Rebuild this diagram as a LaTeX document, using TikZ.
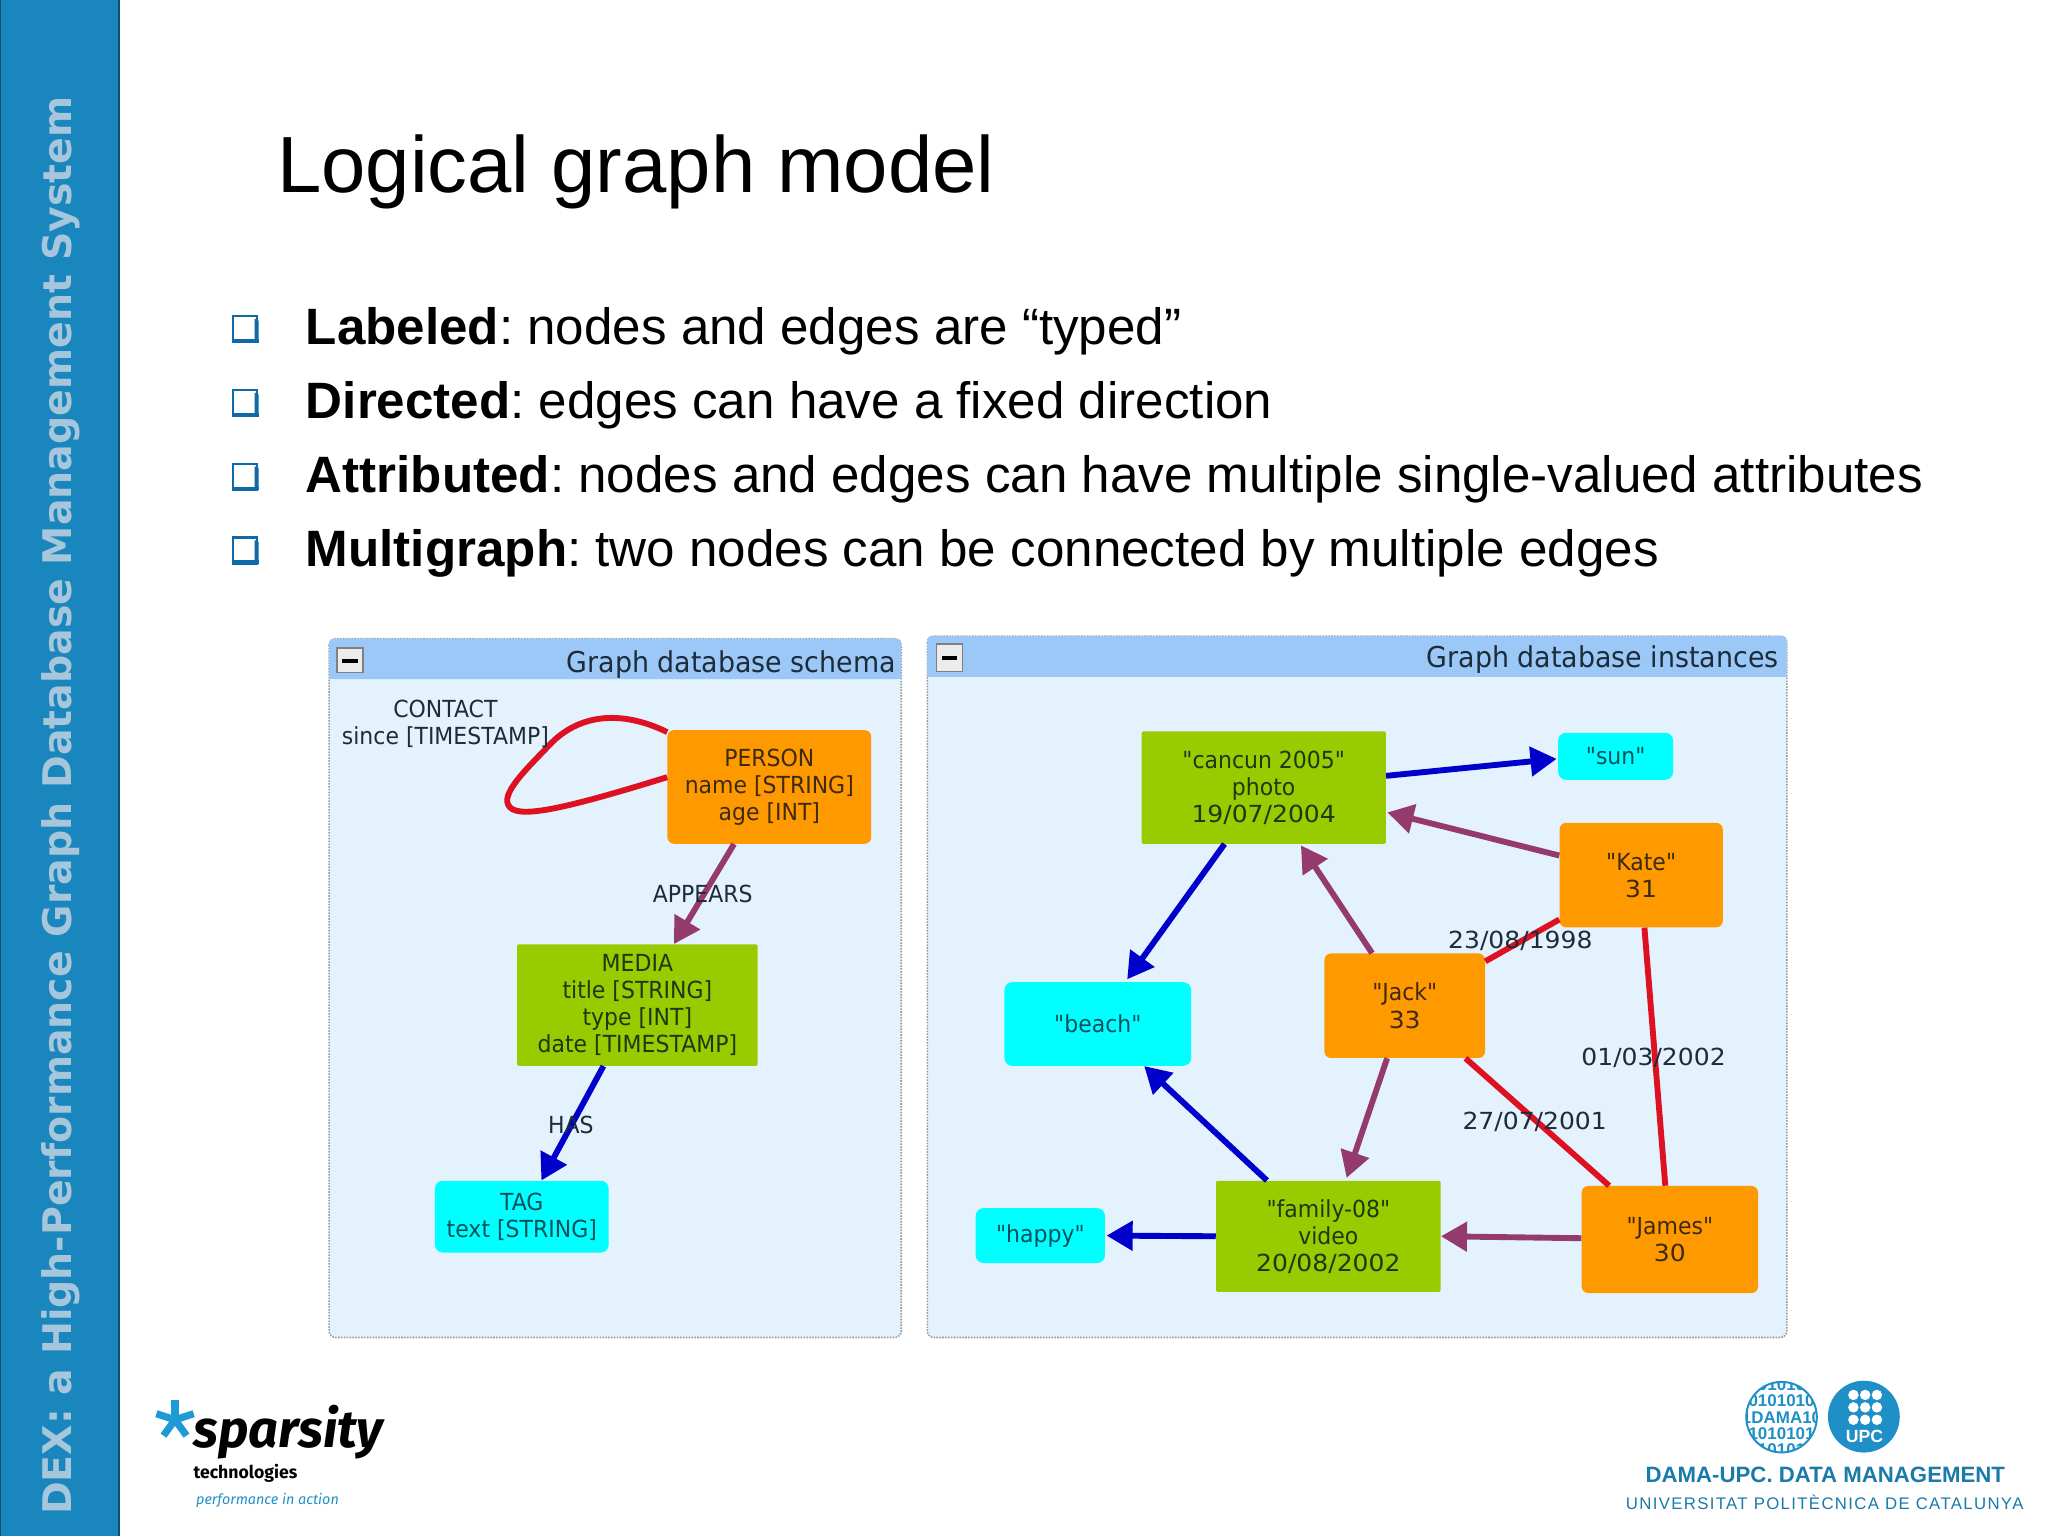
\documentclass[tikz,border=0pt]{standalone}
\usepackage{fontspec}
\usepackage{graphicx}
\usetikzlibrary{arrows.meta}
\setmainfont{Liberation Sans}
\newfontfamily\dejavu{DejaVu Sans}
\newfontfamily\dvnarrow[FakeStretch=0.935]{DejaVu Sans}
\newfontfamily\dvwide[FakeStretch=1.065]{DejaVu Sans}
\newfontfamily\fira{Fira Sans}
\newfontfamily\uniwide[LetterSpace=8]{Liberation Sans}
\definecolor{sidebar}{HTML}{1A86BE}
\definecolor{sidetext}{HTML}{A6C6DC}
\definecolor{headblue}{HTML}{9CC8F8}
\definecolor{bodyblue}{HTML}{E4F2FD}
\definecolor{orangenode}{HTML}{FF9900}
\definecolor{greennode}{HTML}{99CC00}
\definecolor{cyannode}{HTML}{00FFFF}
\definecolor{rededge}{HTML}{DD1122}
\definecolor{blueedge}{HTML}{0000CC}
\definecolor{purpleedge}{HTML}{953A6E}
\definecolor{inktext}{HTML}{1C2C3A}
\definecolor{inkorange}{HTML}{3E2A10}
\definecolor{inkgreen}{HTML}{1A3A14}
\definecolor{inkcyan}{HTML}{06505C}
\definecolor{logoblue}{HTML}{1F8FC8}
\definecolor{starblue}{HTML}{1E9AD6}
\definecolor{bullblue}{HTML}{0F6BA8}
\newcommand{\ntext}{\dvnarrow\fontsize{18}{20.7}\selectfont}
\newcommand{\dtext}{\dvwide\fontsize{18}{20.7}\selectfont}
\tikzset{
  nodebase/.style={inner sep=0pt,align=center,text=inktext,font=\ntext},
  orangebox/.style={nodebase,text=inkorange,fill=orangenode,rounded corners=5pt},
  greenbox/.style={nodebase,text=inkgreen,fill=greennode,rounded corners=1pt},
  cyanbox/.style={nodebase,text=inkcyan,fill=cyannode,rounded corners=6pt},
  dim/.style 2 args={minimum width=#1pt,minimum height=#2pt},
  edgelabel/.style={nodebase},
  redline/.style={draw=rededge,line width=4.5pt},
  blueline/.style={draw=blueedge,line width=4.5pt,-{Triangle[length=20pt,width=22pt]}},
  purpleline/.style={draw=purpleedge,line width=4.5pt,-{Triangle[length=20pt,width=22pt]}},
  panel/.style={draw=gray!80,densely dotted,line width=1.2pt,fill=bodyblue,rounded corners=5pt},
  bulletbox/.style={draw=bullblue,line width=1.6pt,fill=white},
  bullettext/.style={anchor=base west,inner sep=0pt,font=\frenchspacing\fontsize{39.15}{41}\selectfont},
  paneltitle/.style={anchor=base east,inner sep=0pt,text=inktext,font=\dvnarrow\fontsize{22}{24}\selectfont},
}
\begin{document}
\begin{tikzpicture}[x=1pt,y=-1pt]
\useasboundingbox (0,0) rectangle (1568,1176);
\fill[white] (0,0) rectangle (1568,1176);
% sidebar
\fill[sidebar] (0,0) rectangle (92,1176);
\draw[sidebar!60!black,line width=1.5pt] (91.2,0) -- (91.2,1176);
\draw[sidebar!60!black,line width=1pt] (0.5,0) -- (0.5,1176);
\node[rotate=90,anchor=west,inner sep=0pt,text=sidetext,font=\dejavu\bfseries\fontsize{30.2}{32}\selectfont] (side) at (46.5,1160) {DEX: a High-Performance Graph Database Management System};
% title
\node[anchor=base west,inner sep=0pt,font=\fontsize{61}{66}\selectfont] (title) at (212,147.5) {Logical graph model};
% bullets
\foreach \yy in {252,308.5,365,421.5}{
  \draw[bulletbox] (178.5,\yy-10) rectangle (197,\yy+10);
  \fill[bullblue] (178,\yy+7.5) -- (198,\yy+7.5) -- (198,\yy+10.5) -- (178,\yy+10.5) -- cycle;
  \fill[bullblue] (195,\yy-8) -- (198,\yy-6.5) -- (198,\yy+10) -- (195,\yy+10) -- cycle;
}
\node[bullettext] (t1) at (234,264) {\textbf{Labeled}: nodes and edges are “typed”};
\node[bullettext] (t2) at (234,320.5) {\textbf{Directed}: edges can have a fixed direction};
\node[bullettext] (t3) at (234,377) {\textbf{Attributed}: nodes and edges can have multiple single-valued attributes};
\node[bullettext] (t4) at (234,433.5) {\textbf{Multigraph}: two nodes can be connected by multiple edges};
% schema panel
\path[panel] (252,489) rectangle (690,1024);
\fill[headblue,rounded corners=3pt] (252,489) rectangle (690,520);
\fill[headblue] (252,505) rectangle (690,520);
\draw[gray,fill=gray!15,line width=1pt] (258,496) rectangle (278,515);
\fill[black] (262,504.5) rectangle (274,507.5);
\node[paneltitle] (schemat) at (686,515) {Graph database schema};
\node[orangebox,dim={156}{87}] (person) at (589,602.5) {PERSON\\name [STRING]\\age [INT]};
\node[greenbox,dim={184}{93}] (media) at (488,769.5) {MEDIA\\title [STRING]\\type [INT]\\date [TIMESTAMP]};
\node[cyanbox,dim={133}{55}] (tag) at (399.5,931.5) {TAG\\text [STRING]};
\draw[redline] ([yshift=42pt]person.west) .. controls (475,543) and (443,547) .. (421,570) .. controls (407,585) and (384,606) .. (389,616) .. controls (394,628) and (430,620) .. ([yshift=7.5pt]person.west);
\draw[purpleline] ([xshift=-27pt]person.south) -- ([xshift=28pt]media.north);
\draw[blueline] ([xshift=-26pt]media.south) -- ([xshift=15pt]tag.north);
\node[edgelabel] (contact) at (341,554) {CONTACT\\since [TIMESTAMP]};
\node[edgelabel] (appears) at (538,684.5) {APPEARS};
\node[edgelabel] (has) at (437,861) {HAS};
% instances panel
\path[panel] (710,487) rectangle (1368,1024);
\fill[headblue,rounded corners=3pt] (710,487) rectangle (1368,518);
\fill[headblue] (710,503) rectangle (1368,518);
\draw[gray,fill=gray!15,line width=1pt] (717,493) rectangle (737,514);
\fill[black] (721,502.5) rectangle (733,505.5);
\node[paneltitle] (instt) at (1362,511) {Graph database instances};
\node[greenbox,dim={187}{86}] (cancun) at (967.5,603) {"cancun 2005"\\photo\\{\dtext 19/07/2004}};
\node[cyanbox,dim={88}{36}] (sun) at (1237,579) {"sun"};
\node[orangebox,dim={125}{80}] (kate) at (1256.5,670) {"Kate"\\{\dtext 31}};
\node[orangebox,dim={123}{80}] (jack) at (1075.5,770) {"Jack"\\{\dtext 33}};
\node[cyanbox,dim={143}{64}] (beach) at (840.5,784) {"beach"};
\node[greenbox,dim={172}{85}] (family) at (1017,946.5) {"family-08"\\video\\{\dtext 20/08/2002}};
\node[cyanbox,dim={99}{42}] (happy) at (796.5,946) {"happy"};
\node[orangebox,dim={135}{82}] (james) at (1278.5,949) {"James"\\{\dtext 30}};
\draw[blueline] ([yshift=9pt]cancun.east) -- ([yshift=-2pt,xshift=-1pt]sun.west);
\draw[purpleline] ([yshift=15pt]kate.west) -- ([yshift=-19pt,xshift=1pt]cancun.east);
\draw[purpleline] ([xshift=-25pt]jack.north) -- ([xshift=28.5pt,yshift=-1pt]cancun.south);
\draw[blueline] ([xshift=-30pt]cancun.south) -- ([xshift=22.5pt,yshift=2pt]beach.north);
\draw[blueline] ([xshift=-47pt]family.north) -- ([xshift=35.5pt]beach.south);
\draw[purpleline] ([xshift=-13.5pt]jack.south) -- ([xshift=14pt,yshift=2pt]family.north);
\draw[blueline] (family.west) -- ([xshift=1pt]happy.east);
\draw[purpleline] ([yshift=1pt]james.west) -- (family.east);
\draw[redline] ([yshift=-34pt]kate.west) -- ([yshift=34pt]jack.east);
\draw[redline] ([xshift=2.5pt]kate.south) -- ([xshift=-3.5pt]james.north);
\draw[redline] ([xshift=46.5pt]jack.south) -- ([xshift=-46.5pt]james.north);
\node[edgelabel,font=\dtext] (d1) at (1164,720) {23/08/1998};
\node[edgelabel,font=\dtext] (d2) at (1266,810) {01/03/2002};
\node[edgelabel,font=\dtext] (d3) at (1175,859) {27/07/2001};
% sparsity logo
\foreach \aa in {270,198,126,54,342}{
  \draw[starblue,line width=5.5pt] (134,1087) -- ++(\aa:15);
}
\node[anchor=base west,inner sep=0pt,font=\fira\bfseries\itshape\fontsize{40}{42}\selectfont] (spars) at (148,1108) {sparsity};
\node[anchor=base west,inner sep=0pt,font=\fira\bfseries\fontsize{13.5}{16}\selectfont] (tech) at (148,1132) {technologies};
\node[anchor=base west,inner sep=0pt,text=logoblue,font=\fira\itshape\fontsize{11}{13}\selectfont] (perf) at (150,1152) {performance in action};
% DAMA logo
\begin{scope}
\clip (1364,1085) circle (27);
\foreach \yy/\ss in {1060/1010101,1072.5/0101010,1085/1DAMA10,1098/1010101,1110/0101010}{
  \node[inner sep=0pt,text=logoblue,font=\bfseries\fontsize{13}{14}\selectfont] at (1364,\yy) {\ss};
}
\end{scope}
\draw[logoblue,line width=1.5pt] (1364,1085) circle (27);
\fill[logoblue] (1427,1084.6) circle (27.5);
\foreach \xx in {1419,1428,1437}{\foreach \yy in {1068,1077.5,1087}{\fill[white] (\xx,\yy) circle (4);}}
\node[inner sep=0pt,text=white,font=\bfseries\fontsize{13.5}{14}\selectfont] (upc) at (1427.5,1099.5) {UPC};
\node[anchor=base,inner sep=0pt,text=logoblue!85!black,font=\bfseries\fontsize{17}{18}\selectfont] (dama) at (1397.5,1135) {DAMA-UPC. DATA MANAGEMENT};
\node[anchor=base,inner sep=0pt,text=logoblue!85!black,font=\uniwide\fontsize{12.85}{15}\selectfont] (upcname) at (1397,1155.5) {UNIVERSITAT POLITÈCNICA DE CATALUNYA};
\end{tikzpicture}
\end{document}
